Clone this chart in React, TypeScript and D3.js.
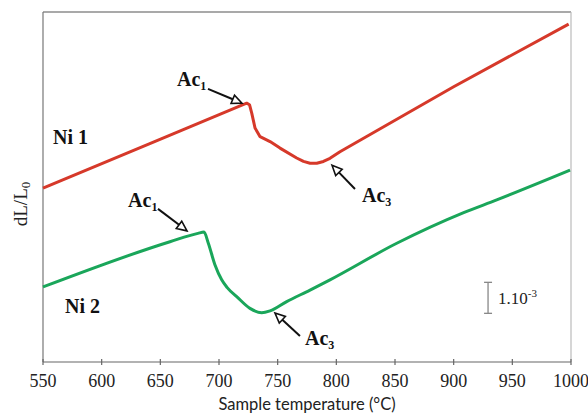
import { scaleLinear, line, curveLinear, curveMonotoneX } from "d3";

// dilatometry curves, value in units of 1e-3 (dL/L0)
const redTemp = [550, 640, 723.6, 726, 727.9, 730.7, 735, 743.5, 752, 766.2, 772, 777.6, 783.3, 789, 794.6, 803.1, 900, 998];
const redVal = [5.61, 7.03, 8.35, 8.3, 8.03, 7.55, 7.27, 7.11, 6.9, 6.58, 6.47, 6.41, 6.41, 6.47, 6.57, 6.78, 8.88, 10.9];

const greenTemp = [550, 658.2, 682, 687.2, 690.9, 696.6, 702.3, 707, 715.1, 726.4, 736.4, 743.5, 757.7, 777.6, 794.6, 851.5, 908, 936.7, 999.2];
const greenVal = [2.42, 3.88, 4.15, 4.19, 3.83, 3.13, 2.65, 2.4, 2.11, 1.73, 1.59, 1.65, 1.95, 2.32, 2.65, 3.83, 4.81, 5.23, 6.19];

const xTicks = [550, 600, 650, 700, 750, 800, 850, 900, 950, 1000];

// annotation anchors in data units
const arrows = [
  { sub: "1", tx: 664.2, ty: 8.9, from: [690.6, 8.81], to: [719.6, 8.35] },
  { sub: "3", tx: 821.9, ty: 5.16, from: [815.9, 5.58], to: [796.3, 6.35] },
  { sub: "1", tx: 622.5, ty: 5.0, from: [648, 4.94], to: [672.7, 4.23] },
  { sub: "3", tx: 773.3, ty: 0.55, from: [769, 0.84], to: [747.7, 1.58] },
];

const RED = "#d6392a";
const GREEN = "#1aa65a";
const SERIF = "'Liberation Serif', 'Times New Roman', serif";

const W = 588;
const H = 414;
const m = { top: 12, right: 17, bottom: 52, left: 43 };

function Arrow({ x1, y1, x2, y2 }: { x1: number; y1: number; x2: number; y2: number }) {
  const dx = x2 - x1;
  const dy = y2 - y1;
  const len = Math.hypot(dx, dy);
  const ux = dx / len;
  const uy = dy / len;
  const hl = 10;
  const hw = 4.5;
  const bx = x2 - ux * hl;
  const by = y2 - uy * hl;
  const pts = [
    [x2, y2],
    [bx - uy * hw, by + ux * hw],
    [bx + uy * hw, by - ux * hw],
  ];
  return (
    <g>
      <line x1={x1} y1={y1} x2={bx} y2={by} stroke="#111" strokeWidth={2} />
      <polygon points={pts.map((p) => p.join(",")).join(" ")} fill="#fff" stroke="#111" strokeWidth={1.6} strokeLinejoin="miter" />
    </g>
  );
}

export default function App() {
  const x = scaleLinear().domain([550, 1000]).range([m.left, W - m.right]);
  const y = scaleLinear().domain([0, 350 / 31]).range([H - m.bottom, m.top]);

  const redLine = line<[number, number]>()
    .x((d) => x(d[0]))
    .y((d) => y(d[1]))
    .curve(curveLinear);
  const greenLine = line<[number, number]>()
    .x((d) => x(d[0]))
    .y((d) => y(d[1]))
    .curve(curveMonotoneX);

  const red = redTemp.map((t, i) => [t, redVal[i]] as [number, number]);
  const green = greenTemp.map((t, i) => [t, greenVal[i]] as [number, number]);

  const x0 = m.left;
  const x1 = W - m.right;
  const y0 = H - m.bottom;
  const y1 = m.top;

  return (
    <svg width={W} height={H} style={{ position: "absolute", left: 0, top: 0, background: "#fff" }}>
      {/* frame */}
      <line x1={x0} y1={y1} x2={x1} y2={y1} stroke="#555" strokeWidth={1.2} />
      <line x1={x1} y1={y1} x2={x1} y2={y0} stroke="#bbb" strokeWidth={1.2} />
      <line x1={x0} y1={y1} x2={x0} y2={y0} stroke="#777" strokeWidth={1.2} />
      <line x1={x0} y1={y0} x2={x1} y2={y0} stroke="#666" strokeWidth={1.2} />

      {/* x ticks */}
      {xTicks.map((t) => (
        <g key={t}>
          <line x1={x(t)} x2={x(t)} y1={y0 - 3} y2={y0 + 3} stroke="#666" strokeWidth={1.2} />
          <text x={x(t)} y={y0 + 25} textAnchor="middle" fontFamily={SERIF} fontSize={18} fill="#222">
            {t}
          </text>
        </g>
      ))}

      <text x={(x0 + x1) / 2} y={H - 4} textAnchor="middle" fontFamily="Lato, 'Open Sans', sans-serif" fontSize={16.5} fill="#222">
        Sample temperature (°C)
      </text>

      <text transform={`translate(27,${(y0 + y1) / 2 + 17}) rotate(-90)`} textAnchor="middle" fontFamily={SERIF} fontSize={19} fill="#222">
        dL/L<tspan fontSize={13} dy={3}>0</tspan>
      </text>

      {/* curves */}
      <path d={redLine(red) ?? ""} fill="none" stroke={RED} strokeWidth={3} strokeLinejoin="round" />
      <path d={greenLine(green) ?? ""} fill="none" stroke={GREEN} strokeWidth={3} strokeLinejoin="round" />

      {/* series labels */}
      <text x={x(558.5)} y={y(7.03)} fontFamily={SERIF} fontWeight="bold" fontSize={20} fill="#111">
        Ni 1
      </text>
      <text x={x(568.8)} y={y(1.58)} fontFamily={SERIF} fontWeight="bold" fontSize={20} fill="#111">
        Ni 2
      </text>

      {/* Ac annotations */}
      {arrows.map((a, i) => (
        <g key={i}>
          <text x={x(a.tx)} y={y(a.ty)} fontFamily={SERIF} fontWeight="bold" fontSize={20} fill="#111">
            Ac<tspan fontSize={12} dy={4}>{a.sub}</tspan>
          </text>
          <Arrow x1={x(a.from[0])} y1={y(a.from[1])} x2={x(a.to[0])} y2={y(a.to[1])} />
        </g>
      ))}

      {/* scale bar: 1e-3 */}
      <g stroke="#888" strokeWidth={1.3}>
        <line x1={x(929.3)} x2={x(929.3)} y1={y(1.57)} y2={y(2.57)} />
        <line x1={x(929.3) - 4} x2={x(929.3) + 4} y1={y(1.57)} y2={y(1.57)} />
        <line x1={x(929.3) - 4} x2={x(929.3) + 4} y1={y(2.57)} y2={y(2.57)} />
      </g>
      <text x={x(937.8)} y={y(1.87)} fontFamily={SERIF} fontSize={17} fill="#222">
        1.10<tspan fontSize={11} dy={-7}>-3</tspan>
      </text>
    </svg>
  );
}
